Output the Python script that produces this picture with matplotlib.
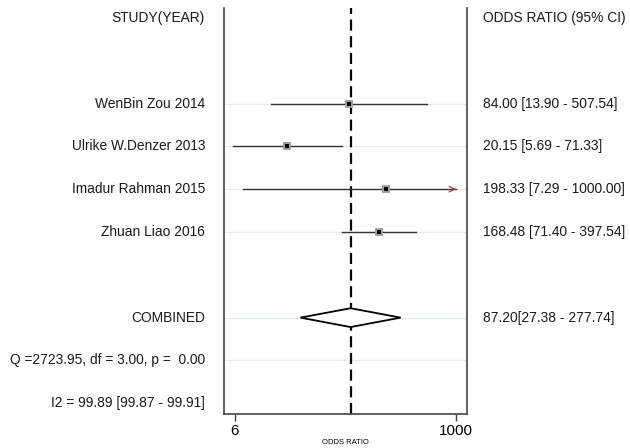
import numpy as np
import matplotlib
matplotlib.use("Agg")
import matplotlib.pyplot as plt
import matplotlib.transforms as mtransforms

plt.rcParams['font.family'] = ['Liberation Sans', 'DejaVu Sans']

studies = ['WenBin Zou 2014', 'Ulrike W.Denzer 2013', 'Imadur Rahman 2015', 'Zhuan Liao 2016']
odds = [84.00, 20.15, 198.33, 168.48]
ci_low = [13.90, 5.69, 7.29, 71.40]
ci_high = [507.54, 71.33, 1000.00, 397.54]
ci_text = ['84.00 [13.90 - 507.54]', '20.15 [5.69 - 71.33]',
           '198.33 [7.29 - 1000.00]', '168.48 [71.40 - 397.54]']
truncated = [False, False, True, False]

comb_or = 87.20
comb_low = 27.38
comb_high = 277.74
comb_text = '87.20[27.38 - 277.74]'
q_text = 'Q =2723.95, df = 3.00, p =  0.00'
i2_text = 'I2 = 99.89 [99.87 - 99.91]'

study_rows = [2, 3, 4, 5]
comb_row = 7
q_row = 8
i2_row = 9

fig = plt.figure(figsize=(6.3, 4.48), dpi=100)
ax = fig.add_axes([224/630, 34/448, 243/630, 406/448])
ax.set_xscale('log')
ax.set_xlim(4.66, 1290)
ax.set_ylim(9.25, -0.23)

# light grid lines
for r in study_rows + [comb_row, q_row]:
    ax.axhline(r, color='#e4ecf2', lw=1.0, zorder=0)

# study CIs and points
for r, o, lo, hi, tr in zip(study_rows, odds, ci_low, ci_high, truncated):
    ax.plot([lo, hi], [r, r], color='#333333', lw=1.0, zorder=2)
    if tr:
        ax.annotate('', xy=(hi, r), xytext=(hi * 0.9, r),
                    arrowprops=dict(arrowstyle='->', color='#b03a3a', lw=0.9,
                                    mutation_scale=10))
    ax.plot(o, r, marker='s', ms=4.8, mfc='black', mec='#a0a0a0', mew=1.4, zorder=3)

# combined diamond
dh = 0.22
ax.fill([comb_low, comb_or, comb_high, comb_or], [comb_row, comb_row - dh, comb_row, comb_row + dh],
        facecolor='white', edgecolor='black', lw=1.3, zorder=3)

# null / combined line
ax.axvline(comb_or, color='black', lw=1.6, ls=(0, (5, 2.5)), zorder=1)

# spines
for s in ['left', 'right', 'bottom']:
    ax.spines[s].set_color('#444444')
    ax.spines[s].set_linewidth(1.2)
ax.spines['top'].set_visible(False)

ax.set_yticks([])
ax.set_xticks([6, 1000])
ax.set_xticklabels(['6', '1000'], fontsize=11)
ax.xaxis.set_minor_locator(matplotlib.ticker.NullLocator())
ax.tick_params(axis='x', length=5, width=1, color='#444444', pad=2)
ax.set_xlabel('ODDS RATIO', fontsize=5.5, labelpad=1)

# text columns
trans = mtransforms.blended_transform_factory(ax.transAxes, ax.transData)
lx = -0.078
rx = 1.066
fs = 9.9
tc = '#1a1a1a'
ax.text(lx, 0, 'STUDY(YEAR)', transform=trans, ha='right', va='center', fontsize=fs, color=tc)
ax.text(rx, 0, 'ODDS RATIO (95% CI)', transform=trans, ha='left', va='center', fontsize=fs, color=tc)
for r, name, t in zip(study_rows, studies, ci_text):
    ax.text(lx, r, name, transform=trans, ha='right', va='center', fontsize=fs, color=tc)
    ax.text(rx, r, t, transform=trans, ha='left', va='center', fontsize=fs, color=tc)
ax.text(lx, comb_row, 'COMBINED', transform=trans, ha='right', va='center', fontsize=fs, color=tc)
ax.text(rx, comb_row, comb_text, transform=trans, ha='left', va='center', fontsize=fs, color=tc)
ax.text(lx, q_row, q_text, transform=trans, ha='right', va='center', fontsize=fs, color=tc)
ax.text(lx, i2_row, i2_text, transform=trans, ha='right', va='center', fontsize=fs, color=tc)

fig.savefig('out.png', dpi=100)
